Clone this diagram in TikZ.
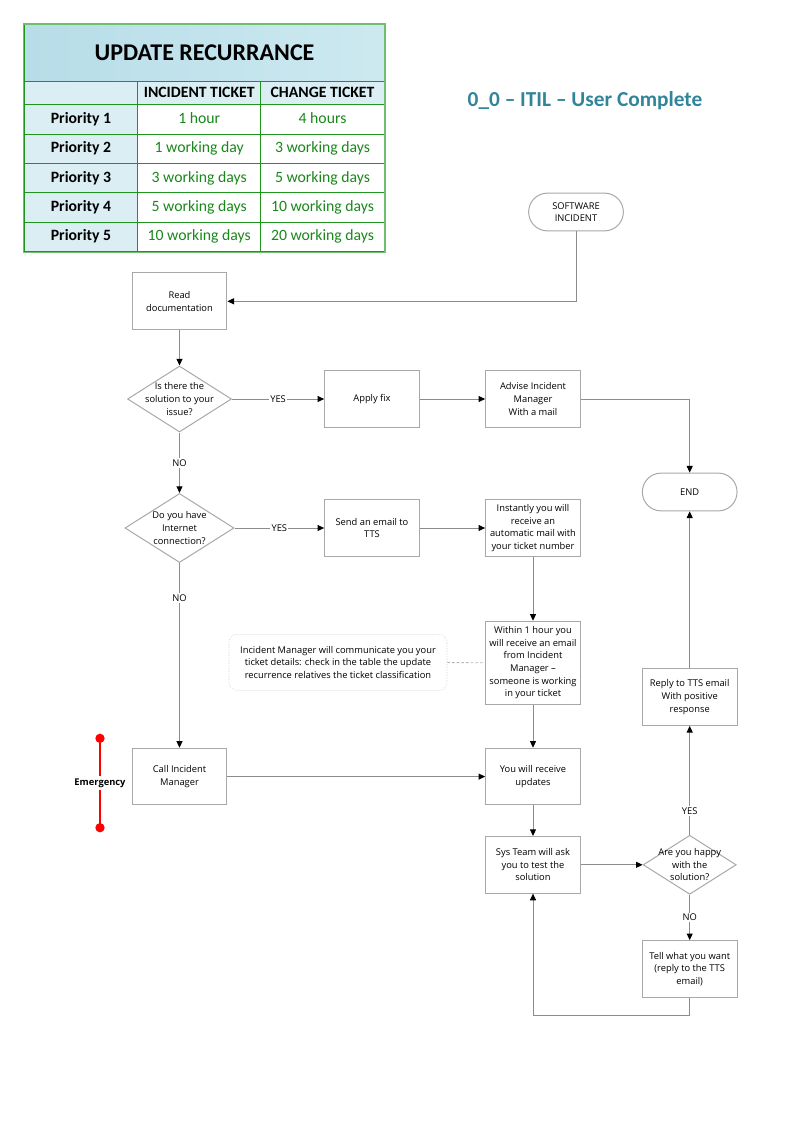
\documentclass[tikz,border=0pt]{standalone}
\usepackage{fontspec}
\setmainfont{Open Sans}
\newfontfamily\tblfont{Carlito}
\usetikzlibrary{arrows.meta,matrix,shapes.geometric}

\definecolor{tblblue}{RGB}{218,238,243}
\definecolor{ttlblue}{RGB}{183,221,232}
\definecolor{ttlblueb}{RGB}{205,233,240}
\definecolor{tblline}{RGB}{30,150,30}
\definecolor{tblouter}{RGB}{112,190,112}
\definecolor{tblgreen}{RGB}{25,135,25}
\definecolor{docteal}{RGB}{49,133,155}
\definecolor{boxgray}{RGB}{168,168,168}
\definecolor{linegray}{RGB}{140,140,140}
\definecolor{notegray}{RGB}{215,215,215}

\newcommand{\flowfont}{\fontsize{7}{9.5}\selectfont}
\newcommand{\cellfont}{\tblfont\fontsize{11.8}{14}\selectfont}

\begin{document}
\begin{tikzpicture}[x=0.75pt, y=-0.75pt,
    box/.style={draw=boxgray, line width=0.75pt, minimum width=71pt,
      minimum height=42.5pt, align=center, font=\flowfont, inner sep=1pt},
    term/.style={box, rounded corners=14pt, minimum height=28.3pt},
    decision/.style={diamond, draw=boxgray, line width=0.75pt, inner sep=0pt},
    dtext/.style={align=center, font=\flowfont, inner sep=0pt},
    flow/.style={draw=linegray, line width=0.75pt,
      -{Triangle[length=5pt, width=4.5pt, color=black]}},
    answer/.style={font=\flowfont, fill=white, inner sep=1pt},
  ]
  \useasboundingbox (0,0) rectangle (793,1122);

  % update recurrance table
  \matrix (tbl) [matrix of nodes, anchor=north west, inner sep=0pt,
    column sep=-0.8pt, row sep=-0.8pt,
    nodes={draw=tblline, line width=0.8pt, anchor=center, font=\cellfont,
      text=tblgreen, inner xsep=2pt, inner ysep=1pt,
      minimum height=22pt, text height=8.6pt, text depth=2.6pt},
    column 1/.style={nodes={fill=tblblue, text=black, font=\cellfont\bfseries,
      minimum width=85pt}},
    column 2/.style={nodes={minimum width=92.4pt}},
    column 3/.style={nodes={minimum width=92.6pt}},
    row 1/.style={nodes={fill=tblblue, text=black, font=\cellfont\bfseries,
      minimum height=17.3pt}},
    nodes in empty cells] at (23.5,81)
    {
      & INCIDENT TICKET & CHANGE TICKET \\
      Priority 1 & 1 hour & 4 hours \\
      Priority 2 & 1 working day & 3 working days \\
      Priority 3 & 3 working days & 5 working days \\
      Priority 4 & 5 working days & 10 working days \\
      Priority 5 & 10 working days & 20 working days \\
    };
  \node[draw=tblline, line width=0.8pt, left color=ttlblue, right color=ttlblueb,
    minimum width=270.8pt, minimum height=42.8pt, anchor=south west, inner sep=0pt,
    font=\tblfont\fontsize{18}{20}\selectfont\bfseries]
    (ttl) at ([yshift=-0.8pt]tbl.north west) {UPDATE RECURRANCE};
  \draw[tblouter, line width=1pt] (ttl.north west) rectangle (tbl.south east);

  \node[font=\tblfont\fontsize{16}{18}\selectfont\bfseries, text=docteal]
    (doctitle) at (585,101) {0\_0 – ITIL – User Complete};

  % flow
  \node[term] (swinc) at (576,212) {SOFTWARE\\INCIDENT};
  \node[box] (readdoc) at (179.5,301.3) {Read\\documentation};
  \node[decision, minimum width=78pt, minimum height=49.5pt,
    label={[dtext]center:Is there the\\solution to your\\issue?}] (q1) at (179.5,399) {};
  \node[box] (applyfix) at (372,399) {Apply fix};
  \node[box] (advise) at (533,399) {Advise Incident\\Manager\\With a mail};
  \node[term] (endn) at (689.7,492) {END};
  \node[decision, minimum width=81.8pt, minimum height=51.8pt,
    label={[dtext]center:Do you have\\Internet\\connection?}] (q2) at (179.5,528) {};
  \node[box] (sendmail) at (372,528) {Send an email to\\TTS};
  \node[box] (instantly) at (533,528) {Instantly you will\\receive an\\automatic mail with\\your ticket number};
  \node[box, minimum height=62.3pt] (within) at (533,662.8)
    {Within 1 hour you\\will receive an email\\from Incident\\Manager –\\someone is working\\in your ticket};
  \node[draw=notegray, dash pattern=on 1pt off 1pt, rounded corners=6pt,
    minimum width=163.5pt, minimum height=42pt, align=center, font=\flowfont]
    (note) at (338,662.3) {Incident Manager will communicate you your\\ticket details: check in the table the update\\recurrence relatives the ticket classification};
  \node[box] (callim) at (179.5,776.6) {Call Incident\\Manager};
  \node[box] (updates) at (533,776.6) {You will receive\\updates};
  \node[box] (systeam) at (533,864.8) {Sys Team will ask\\you to test the\\solution};
  \node[decision, minimum width=69.8pt, minimum height=44.3pt,
    label={[dtext]center:Are you happy\\with the\\solution?}] (q3) at (689.7,864.8) {};
  \node[box] (tell) at (689.7,969) {Tell what you want\\(reply to the TTS\\email)};
  \node[box] (reply) at (689.7,697) {Reply to TTS email\\With positive\\response};

  % emergency marker
  \coordinate (emtop) at (100,738.3);
  \coordinate (embot) at (100,827.7);
  \draw[red, line width=2.2pt] (emtop) -- (embot)
    node[midway, fill=white, text=black, font=\flowfont\bfseries, inner sep=2pt] (emlbl) {Emergency};
  \fill[red] (emtop) circle (3.5pt) (embot) circle (3.5pt);

  % connectors
  \draw[flow] (swinc) |- (readdoc);
  \draw[flow] (readdoc) -- (q1);
  \draw[flow] (q1) -- node[answer] {YES} (applyfix);
  \draw[flow] (applyfix) -- (advise);
  \draw[flow] (advise) -| (endn);
  \draw[flow] (q1) -- node[answer] {NO} (q2);
  \draw[flow] (q2) -- node[answer] {YES} (sendmail);
  \draw[flow] (sendmail) -- (instantly);
  \draw[flow] (instantly) -- (within);
  \draw[flow] (q2) -- node[answer, pos=0.19] {NO} (callim);
  \draw[flow] (within) -- (updates);
  \draw[flow] (callim) -- (updates);
  \draw[flow] (updates) -- (systeam);
  \draw[flow] (systeam) -- (q3);
  \draw[flow] (q3) -- node[answer, pos=0.22] {YES} (reply);
  \draw[flow] (reply) -- (endn);
  \draw[flow] (q3) -- node[answer] {NO} (tell);
  \draw[flow] (tell.south) -- ++(0,18) -| (systeam.south);
  \draw[notegray!60!gray, dash pattern=on 2pt off 1.5pt, line width=0.6pt] (note) -- (within);
\end{tikzpicture}
\end{document}
